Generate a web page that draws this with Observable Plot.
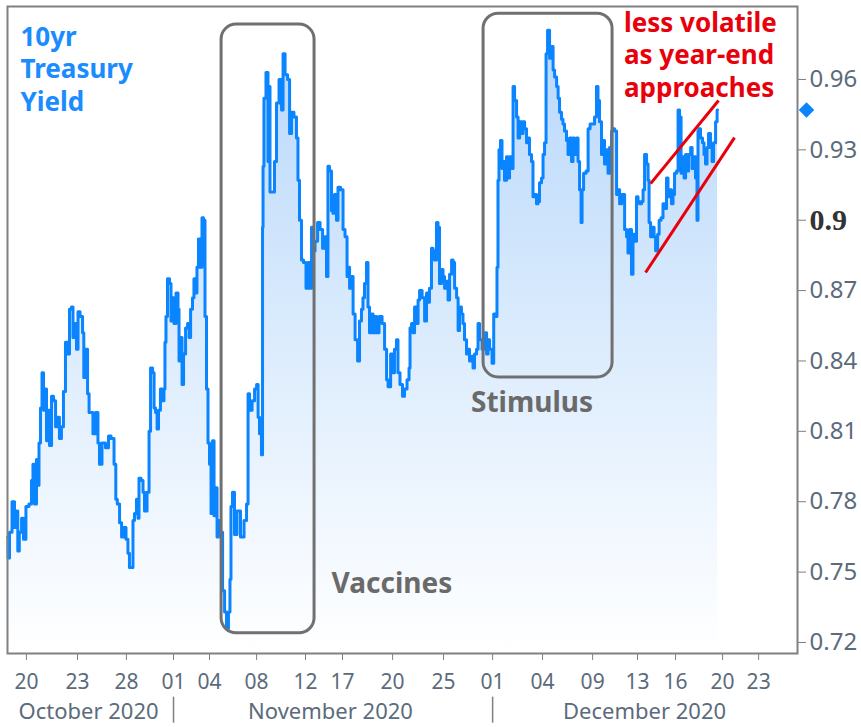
<!DOCTYPE html>
<html><head><meta charset="utf-8">
<script src="https://cdn.jsdelivr.net/npm/d3@7"></script>
<script src="https://cdn.jsdelivr.net/npm/@observablehq/plot@0.6"></script>
<style>body{margin:0;background:#fff} #chart svg{display:block;overflow:visible}</style>
</head><body><div id="chart"></div><script>
// [trading-day index since start, 10yr yield %]
const yieldSeries = [
[0.00,0.765],[0.06,0.756],[0.18,0.767],[0.36,0.780],[0.48,0.769],[0.60,0.776],[0.63,0.759],[0.78,0.767],[0.90,0.773],[1.01,0.764],
[1.19,0.778],[1.37,0.779],[1.49,0.789],[1.55,0.796],[1.67,0.779],[1.79,0.798],[1.85,0.787],[1.91,0.805],[2.03,0.820],[2.09,0.835],
[2.21,0.819],[2.27,0.828],[2.39,0.806],[2.45,0.819],[2.57,0.804],[2.69,0.825],[2.81,0.823],[2.93,0.812],[3.04,0.816],[3.16,0.807],
[3.28,0.812],[3.40,0.827],[3.52,0.848],[3.64,0.843],[3.76,0.862],[3.88,0.863],[3.94,0.850],[4.06,0.856],[4.18,0.845],[4.24,0.861],
[4.42,0.859],[4.54,0.852],[4.57,0.833],[4.72,0.845],[4.84,0.826],[4.90,0.818],[5.07,0.818],[5.13,0.809],[5.37,0.818],[5.43,0.805],
[5.55,0.796],[5.73,0.805],[5.97,0.803],[6.09,0.808],[6.27,0.807],[6.45,0.796],[6.48,0.781],[6.63,0.779],[6.75,0.771],[6.87,0.765],
[6.99,0.769],[7.16,0.764],[7.22,0.758],[7.34,0.752],[7.46,0.752],[7.52,0.772],[7.64,0.775],[7.76,0.781],[7.82,0.773],[7.88,0.790],
[8.06,0.789],[8.12,0.784],[8.24,0.776],[8.42,0.784],[8.48,0.810],[8.60,0.837],[8.72,0.835],[8.78,0.820],[8.90,0.818],[8.96,0.811],
[9.07,0.819],[9.19,0.828],[9.31,0.823],[9.37,0.828],[9.43,0.848],[9.49,0.859],[9.61,0.875],[9.73,0.873],[9.79,0.857],[9.91,0.867],
[9.97,0.856],[10.15,0.869],[10.21,0.862],[10.27,0.840],[10.39,0.850],[10.45,0.830],[10.57,0.843],[10.69,0.854],[10.81,0.856],[10.87,0.850],
[10.99,0.862],[11.10,0.867],[11.16,0.875],[11.28,0.869],[11.34,0.880],[11.46,0.892],[11.58,0.880],[11.64,0.901],[11.76,0.900],[11.82,0.859],
[11.94,0.828],[12.00,0.805],[12.12,0.796],[12.18,0.775],[12.30,0.806],[12.36,0.774],[12.48,0.786],[12.54,0.765],[12.66,0.772],[12.78,0.767],
[12.90,0.742],[13.02,0.733],[13.13,0.726],[13.25,0.733],[13.31,0.747],[13.37,0.778],[13.49,0.784],[13.61,0.766],[13.79,0.776],[14.03,0.765],
[14.21,0.772],[14.33,0.779],[14.39,0.826],[14.51,0.819],[14.69,0.823],[14.81,0.828],[14.93,0.830],[14.99,0.816],[15.10,0.809],[15.22,0.800],
[15.23,0.897],[15.28,0.923],[15.34,0.952],[15.52,0.963],[15.58,0.925],[15.64,0.957],[15.70,0.912],[15.88,0.912],[16.00,0.925],[16.12,0.950],
[16.30,0.960],[16.42,0.947],[16.48,0.971],[16.66,0.962],[16.78,0.960],[16.90,0.937],[17.01,0.946],[17.19,0.944],[17.31,0.935],[17.37,0.917],
[17.49,0.900],[17.61,0.883],[17.73,0.882],[17.91,0.871],[17.97,0.882],[18.09,0.871],[18.21,0.897],[18.27,0.887],[18.45,0.891],[18.57,0.899],
[18.75,0.896],[18.87,0.888],[18.99,0.893],[19.10,0.876],[19.16,0.923],[19.28,0.921],[19.40,0.904],[19.46,0.903],[19.58,0.911],[19.70,0.900],
[19.76,0.914],[20.00,0.913],[20.06,0.896],[20.24,0.893],[20.30,0.876],[20.36,0.880],[20.48,0.871],[20.60,0.876],[20.66,0.860],[20.84,0.849],
[20.96,0.840],[21.07,0.857],[21.19,0.862],[21.25,0.867],[21.37,0.873],[21.49,0.882],[21.55,0.863],[21.67,0.852],[21.79,0.860],[21.85,0.852],
[21.97,0.859],[22.09,0.852],[22.27,0.859],[22.45,0.856],[22.57,0.845],[22.69,0.832],[22.75,0.829],[22.99,0.843],[23.04,0.835],[23.16,0.845],
[23.28,0.849],[23.34,0.835],[23.52,0.830],[23.64,0.825],[23.76,0.828],[23.94,0.832],[24.00,0.837],[24.06,0.854],[24.18,0.856],[24.24,0.852],
[24.36,0.863],[24.48,0.856],[24.54,0.866],[24.66,0.870],[24.84,0.867],[24.96,0.857],[25.07,0.869],[25.13,0.865],[25.25,0.871],[25.37,0.888],
[25.43,0.887],[25.55,0.883],[25.67,0.899],[25.73,0.897],[25.85,0.873],[25.97,0.879],[26.03,0.876],[26.15,0.871],[26.27,0.874],[26.33,0.866],
[26.45,0.877],[26.57,0.883],[26.63,0.882],[26.75,0.871],[26.87,0.867],[26.93,0.853],[27.04,0.863],[27.16,0.860],[27.22,0.856],[27.34,0.849],
[27.46,0.843],[27.52,0.845],[27.64,0.840],[27.76,0.842],[27.82,0.837],[27.94,0.843],[28.06,0.845],[28.12,0.856],[28.24,0.849],[28.42,0.845],
[28.54,0.852],[28.66,0.843],[28.72,0.849],[28.84,0.845],[29.01,0.839],[29.04,0.860],[29.19,0.859],[29.25,0.880],[29.31,0.917],[29.37,0.930],
[29.49,0.934],[29.55,0.922],[29.61,0.925],[29.73,0.917],[29.85,0.927],[29.91,0.918],[30.03,0.927],[30.15,0.922],[30.21,0.957],[30.33,0.951],
[30.45,0.944],[30.51,0.935],[30.63,0.942],[30.75,0.937],[30.81,0.942],[30.93,0.939],[31.04,0.933],[31.10,0.935],[31.22,0.928],[31.34,0.925],
[31.40,0.910],[31.52,0.911],[31.64,0.907],[31.70,0.908],[31.82,0.916],[31.94,0.918],[32.00,0.928],[32.12,0.933],[32.18,0.971],[32.30,0.981],
[32.42,0.969],[32.54,0.974],[32.60,0.964],[32.72,0.961],[32.84,0.957],[32.90,0.952],[33.01,0.946],[33.13,0.943],[33.19,0.941],[33.31,0.938],
[33.43,0.934],[33.49,0.928],[33.61,0.935],[33.73,0.925],[33.79,0.935],[33.91,0.928],[34.03,0.935],[34.09,0.925],[34.21,0.913],[34.27,0.899],
[34.33,0.913],[34.45,0.920],[34.63,0.921],[34.69,0.939],[34.87,0.941],[34.99,0.941],[35.10,0.944],[35.22,0.957],[35.28,0.951],[35.40,0.942],
[35.52,0.928],[35.58,0.934],[35.70,0.924],[35.82,0.930],[35.88,0.920],[36.00,0.931],[36.12,0.938],[36.18,0.939],[36.30,0.938],[36.42,0.911],
[36.48,0.913],[36.60,0.907],[36.72,0.911],[36.78,0.911],[36.90,0.896],[37.01,0.893],[37.07,0.886],[37.19,0.896],[37.31,0.877],[37.37,0.894],
[37.49,0.891],[37.61,0.910],[37.67,0.908],[37.79,0.907],[37.91,0.908],[37.97,0.913],[38.09,0.928],[38.21,0.924],[38.27,0.917],[38.33,0.899],
[38.45,0.893],[38.57,0.897],[38.63,0.893],[38.75,0.887],[38.87,0.894],[38.93,0.900],[39.10,0.901],[39.16,0.907],[39.28,0.905],[39.40,0.918],
[39.46,0.910],[39.58,0.913],[39.70,0.907],[39.76,0.911],[39.88,0.920],[40.00,0.921],[40.06,0.947],[40.18,0.944],[40.24,0.920],[40.36,0.927],
[40.42,0.918],[40.54,0.928],[40.60,0.921],[40.72,0.928],[40.84,0.931],[40.90,0.922],[41.01,0.927],[41.13,0.918],[41.19,0.900],[41.25,0.938],
[41.31,0.939],[41.43,0.935],[41.55,0.933],[41.61,0.928],[41.73,0.924],[41.79,0.931],[41.91,0.937],[42.03,0.931],[42.09,0.925],[42.21,0.933],
[42.33,0.942],[42.39,0.947]
];

const xDomain = [0, 47.16];
const yDomain = [0.7153, 0.9911];

const xTickPos    = [1.13, 4.18, 7.10, 9.91, 12.06, 14.87, 17.79, 20.00, 22.99, 26.03, 28.96, 31.94, 34.93, 37.61, 39.88, 42.69, 44.84];
const xTickLabels = ["20","23","28","01","04","08","12","17","20","25","01","04","09","13","16","20","23"];
const monthLabels  = ["October 2020", "November 2020", "December 2020"];
const monthCenters = [4.84, 19.28, 38.03];
const monthStarts  = [9.91, 28.96];
const yTicks = [0.72, 0.75, 0.78, 0.81, 0.84, 0.87, 0.93, 0.96];
const yBoldTicks = [0.9];

const titleText = "10yr\nTreasury\nYield";
const boxLabels = ["Vaccines", "Stimulus"];
const boxT1 = [12.78, 28.42];
const boxT2 = [18.33, 36.12];
const boxV1 = [0.7239, 0.833];
const boxV2 = [0.9834, 0.988];
const boxLabelT = [22.95, 31.31];
const boxLabelV = [0.7448, 0.8219];
const noteText = "less volatile\nas year-end\napproaches";
const noteT = 36.8;
const trendT1 = [38.39, 38.09];
const trendV1 = [0.9156, 0.8777];
const trendT2 = [42.45, 43.40];
const trendV2 = [0.9510, 0.9352];

const blue = "#0a84ff";
const tickLabelMap = new Map(xTickPos.map((p, i) => [p, xTickLabels[i]]));
const lastYield = yieldSeries[yieldSeries.length - 1][1];
const idx2 = [0, 1];

const svg = Plot.plot({
  width: 861,
  height: 727,
  marginLeft: 7,
  marginRight: 64,
  marginTop: 6,
  marginBottom: 74,
  style: {fontFamily: "Noto Sans", background: "white", overflow: "visible"},
  x: {domain: xDomain},
  y: {domain: yDomain},
  marks: [
    Plot.areaY(yieldSeries, {x: d => d[0], y1: () => yDomain[0], y2: d => d[1], curve: "step", fill: "url(#areaGrad)"}),
    Plot.line(yieldSeries, {x: d => d[0], y: d => d[1], curve: "step", stroke: blue, strokeWidth: 3}),
    Plot.rect(idx2, {x1: i => boxT1[i], x2: i => boxT2[i], y1: i => boxV1[i], y2: i => boxV2[i],
      fill: "none", stroke: "#707070", strokeWidth: 3, rx: 15}),
    Plot.text(idx2, {x: i => boxLabelT[i], y: i => boxLabelV[i], text: i => boxLabels[i],
      fontSize: 28, fontWeight: "bold", fill: "#6a6a6a"}),
    Plot.link(idx2, {x1: i => trendT1[i], y1: i => trendV1[i], x2: i => trendT2[i], y2: i => trendV2[i],
      stroke: "#e8000b", strokeWidth: 3}),
    Plot.text([noteText], {x: noteT, frameAnchor: "top", dy: 2, textAnchor: "start", lineAnchor: "top",
      lineHeight: 1.25, fontSize: 26, fontWeight: "bold", fill: "#e8000b"}),
    Plot.text([titleText], {frameAnchor: "top-left", dx: 13, dy: 16, textAnchor: "start", lineAnchor: "top",
      lineHeight: 1.25, fontSize: 26, fontWeight: "bold", fill: "#1a8cff"}),
    Plot.frame({stroke: "#808080", strokeWidth: 2}),
    Plot.axisX(xTickPos, {tickFormat: d => tickLabelMap.get(d), tickSize: 7, tickPadding: 14, fontSize: 21,
      stroke: "#7f7f7f", fill: "#5b6b7c", label: null}),
    Plot.axisY(yTicks, {anchor: "right", tickSize: 8, tickPadding: 4, fontSize: 24, tickFormat: d3.format(".2f"),
      stroke: "#7f7f7f", fill: "#5b6b7c", label: null}),
    Plot.axisY(yBoldTicks, {anchor: "right", tickSize: 8, tickPadding: 4, fontSize: 30, tickFormat: d => String(d),
      fontFamily: "Liberation Serif", fontWeight: "bold", stroke: "#7f7f7f", fill: "#333333", label: null}),
    Plot.ruleX(monthStarts, {y1: 0.6967, y2: 0.6856, stroke: "#7f7f7f", strokeWidth: 1.5}),
    Plot.text(monthLabels, {x: (d, i) => monthCenters[i], frameAnchor: "bottom", dy: 65, fontSize: 22, fill: "#5b6b7c"}),
    Plot.dot([lastYield], {y: d => d, frameAnchor: "right", dx: 9, symbol: "diamond2", r: 7, fill: blue})
  ]
});

const defs = d3.select(svg).insert("defs", ":first-child");
const grad = defs.append("linearGradient").attr("id", "areaGrad")
  .attr("gradientUnits", "userSpaceOnUse").attr("x1", 0).attr("y1", 6).attr("x2", 0).attr("y2", 653);
grad.append("stop").attr("offset", "0%").attr("stop-color", "#b5d6fb");
grad.append("stop").attr("offset", "55%").attr("stop-color", "#deedfd");
grad.append("stop").attr("offset", "100%").attr("stop-color", "#ffffff");

document.getElementById("chart").appendChild(svg);
</script></body></html>
